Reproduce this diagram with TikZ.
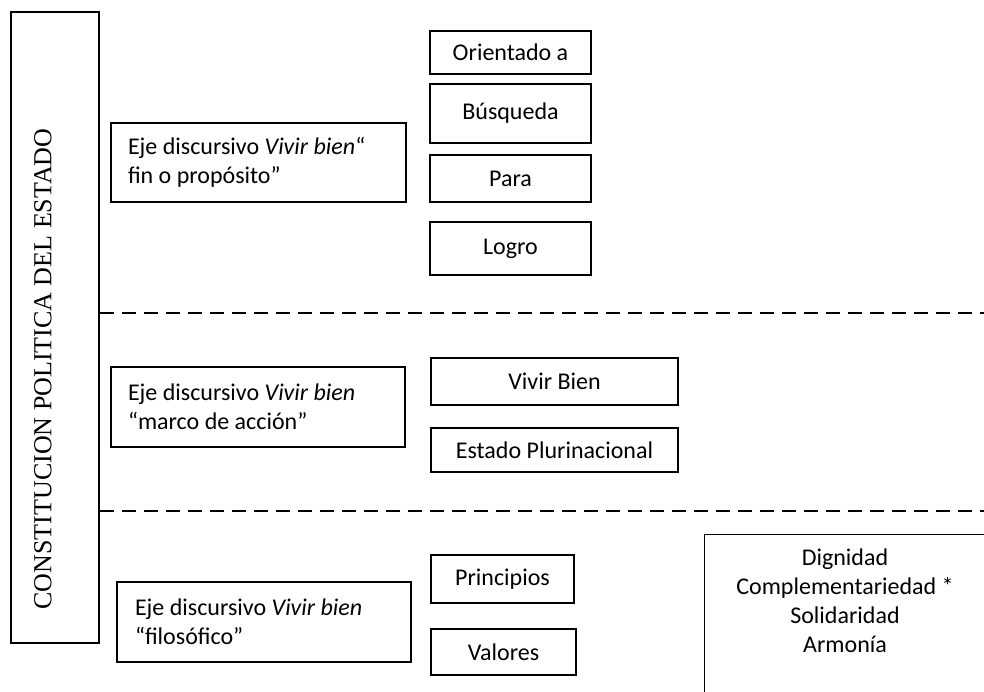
\documentclass[tikz,border=0pt]{standalone}
\usepackage{fontspec}
\setmainfont{Carlito}
\newfontfamily\timesfont{Liberation Serif}
\begin{document}
\begin{tikzpicture}[x=1pt,y=-1pt,
  every node/.style={font=\fontsize{24}{29}\selectfont},
  box/.style={draw=black, line width=1.4pt, rectangle, inner sep=0pt},
  ejebox/.style={box, align=flush left, inner xsep=17pt, text width=#1},
  dashline/.style={line width=1.4pt, dash pattern=on 14pt off 8pt}]
\useasboundingbox (0,0) rectangle (984,692);
% left vertical rectangle
\node[box, minimum width=88pt, minimum height=631pt] (cpe) at (55,327.5) {};
\node[rotate=90, font=\timesfont\fontsize{26}{30}\selectfont] (cpet) at (43,369) {CONSTITUCION POLITICA DEL ESTADO};
% dashed separators
\coordinate (d1) at (984,313);
\coordinate (d2) at (984,511);
\draw[dashline] (cpe.east |- d1) -- (d1);
\draw[dashline] (cpe.east |- d2) -- (d2);
% top section
\node[ejebox=261pt, minimum height=79pt] (eje1) at (258.5,162.5) {Eje discursivo \textit{Vivir bien}“\\fin o propósito”};
\node[box, minimum width=161pt, minimum height=43pt] (orient) at (510.5,52.5) {Orientado a};
\node[box, minimum width=161pt, minimum height=59pt] (busq) at (510.5,113.5) {\raisebox{5pt}{Búsqueda}};
\node[box, minimum width=161pt, minimum height=47pt] (para) at (510.5,178.5) {Para};
\node[box, minimum width=161pt, minimum height=53pt] (logro) at (510.5,248.5) {Logro};
% middle section
\node[ejebox=260pt, minimum height=80pt] (eje2) at (258,407) {Eje discursivo \textit{Vivir bien}\\“marco de acción”};
\node[box, minimum width=247pt, minimum height=47pt] (vivir) at (554.5,381.5) {Vivir Bien};
\node[box, minimum width=247pt, minimum height=44pt] (estado) at (554.5,450) {Estado Plurinacional};
% bottom section
\node[ejebox=258pt, inner xsep=18pt, minimum height=80pt] (eje3) at (264,622) {Eje discursivo \textit{Vivir bien}\\“filosófico”};
\node[box, minimum width=143pt, minimum height=48pt] (princ) at (502.5,579) {Principios};
\node[box, minimum width=145pt, minimum height=46pt] (valores) at (503.5,652) {Valores};
\node[box, minimum width=300pt, minimum height=200pt, anchor=north west] (lista) at (704,534) {};
\node[align=center] (listat) at (845,601) {Dignidad\\Complementariedad *\\Solidaridad\\Armonía};
\end{tikzpicture}
\end{document}
